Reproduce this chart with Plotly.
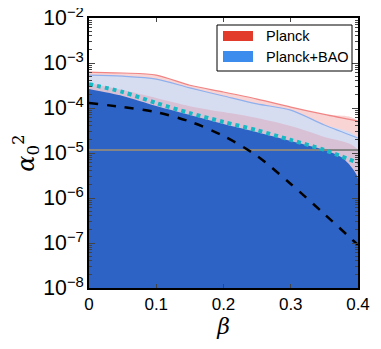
# python3
import plotly.graph_objects as go

# beta grid and curves
beta = [0, 0.05, 0.1, 0.15, 0.2, 0.25, 0.3, 0.35, 0.4]
planck_2s = [6.3e-4, 6.0e-4, 5.4e-4, 3.2e-4, 2.27e-4, 1.58e-4, 1.05e-4, 7.2e-5, 5.1e-5]
bao_2s = [5.4e-4, 5.1e-4, 4.4e-4, 2.8e-4, 1.85e-4, 1.23e-4, 9.0e-5, 4.2e-5, 2.15e-5]
planck_1s = [3.6e-4, 2.5e-4, 1.67e-4, 1.1e-4, 8.1e-5, 6.0e-5, 4.0e-5, 2.27e-5, 1.17e-5]

beta_1s = [0, 0.05, 0.1, 0.15, 0.2, 0.25, 0.3, 0.35, 0.375, 0.39, 0.4]
bao_1s = [2.64e-4, 1.85e-4, 1.11e-4, 7.0e-5, 4.4e-5, 2.9e-5, 1.85e-5, 1.17e-5, 8.1e-6, 4.9e-6, 2.7e-6]

dotted = [3.4e-4, 2.27e-4, 1.29e-4, 7.7e-5, 4.9e-5, 3.2e-5, 1.95e-5, 1.17e-5, 6.0e-6]
dashed = [1.29e-4, 1.05e-4, 8.1e-5, 5.0e-5, 2.39e-5, 8.6e-6, 2.05e-6, 4.4e-7, 9.0e-8]
hline = 1.17e-5
floor = 1e-9

fig = go.Figure()
smooth = dict(shape='spline', smoothing=0.8)


def band(xs, ys, fillcol, linecol=None):
    fig.add_trace(go.Scatter(
        x=xs + xs[::-1], y=ys + [floor] * len(xs), fill='toself',
        fillcolor=fillcol, mode='lines', line=dict(width=0, **smooth),
        showlegend=False, hoverinfo='skip'))
    if linecol:
        fig.add_trace(go.Scatter(x=xs, y=ys, mode='lines',
                                 line=dict(color=linecol, width=1.2, **smooth),
                                 showlegend=False, hoverinfo='skip'))


band(beta, planck_2s, '#f9d4d4', '#f08585')
band(beta, bao_2s, '#d6ddf1', '#8db0ee')
band(beta, planck_1s, '#d9c1d5')
band(beta_1s, bao_1s, '#2d63c5')

fig.add_trace(go.Scatter(x=[0, 0.4], y=[hline, hline], mode='lines',
                         line=dict(color='#858585', width=2), showlegend=False))
fig.add_trace(go.Scatter(x=beta, y=dashed, mode='lines',
                         line=dict(color='black', width=2.5, dash='dash', **smooth),
                         showlegend=False))
fig.add_trace(go.Scatter(x=beta, y=dotted, mode='lines',
                         line=dict(color='#17b9c4', width=4, dash='dot', **smooth),
                         showlegend=False))

# legend drawn by hand (wide patches like the original)
# page body has an 8px margin, so figure coords = screen coords - 8
def px(x):
    return (x - 89) / 269


def py(y):
    return (288 - y) / 270


fig.add_shape(type='rect', xref='paper', yref='paper', x0=px(217), x1=px(352),
              y0=py(71), y1=py(25), line=dict(color='black', width=1), fillcolor='white')
fig.add_shape(type='rect', xref='paper', yref='paper', x0=px(223), x1=px(253),
              y0=py(41), y1=py(31), line=dict(width=0), fillcolor='#e23b2b')
fig.add_shape(type='rect', xref='paper', yref='paper', x0=px(223), x1=px(253),
              y0=py(62), y1=py(51), line=dict(width=0), fillcolor='#3b8ced')
for label, yy in [('Planck', 36), ('Planck+BAO', 57)]:
    fig.add_annotation(x=px(264), y=py(yy), xref='paper', yref='paper', text=label,
                       showarrow=False, xanchor='left', yanchor='middle',
                       font=dict(size=14.5, color='black'))

fig.update_layout(
    width=373, height=341, margin=dict(l=81, r=23, t=10, b=61),
    paper_bgcolor='white', plot_bgcolor='white',
    font=dict(family='Liberation Sans, Arial', size=17, color='black'),
    showlegend=False,
)
fig.update_xaxes(range=[0, 0.4], tickvals=[0, 0.1, 0.2, 0.3, 0.4], ticktext=['0', '0.1', '0.2', '0.3', '0.4'],
                 ticks='inside', ticklen=4, showline=True, linecolor='black', linewidth=1.5,
                 mirror='ticks', showgrid=False, zeroline=False, automargin=False,
                 ticklabeloverflow='allow',
                 title=dict(text='<i>β</i>', font=dict(family='DejaVu Serif', size=22), standoff=4))
fig.update_yaxes(type='log', range=[-8, -2], dtick=1, exponentformat='power',
                 ticks='inside', ticklen=6, showline=True, linecolor='black', linewidth=1.5,
                 mirror='ticks', showgrid=False, zeroline=False, automargin=False,
                 ticklabeloverflow='allow',
                 minor=dict(ticks='inside', ticklen=3, dtick='D1', showgrid=False),
                 title=dict(text='<i>α</i><sub>0</sub><sup>2</sup>', font=dict(family='DejaVu Serif', size=24), standoff=6))

fig.write_html("out.html")
